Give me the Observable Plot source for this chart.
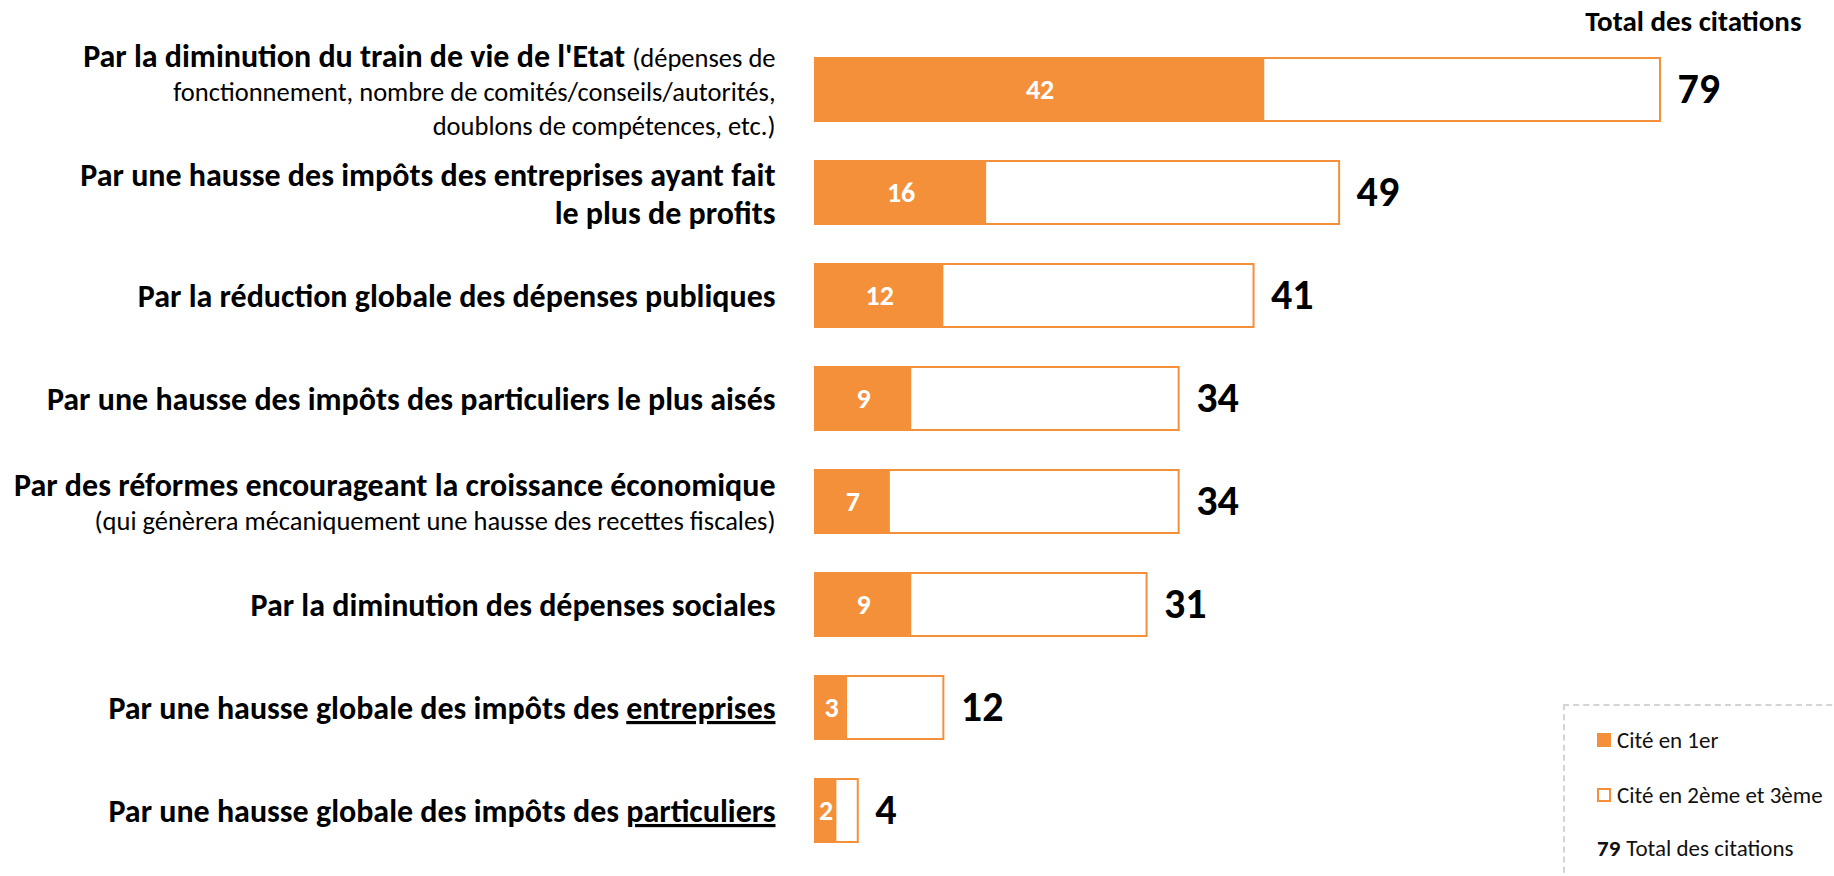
<!DOCTYPE html>
<html>
<head>
<meta charset="utf-8">
<script src="https://cdn.jsdelivr.net/npm/d3@7"></script>
<script src="https://cdn.jsdelivr.net/npm/@observablehq/plot@0.6"></script>
<style>
  html, body { margin: 0; padding: 0; background: #fff; overflow: hidden; }
  #wrap { position: relative; width: 1834px; height: 876px; overflow: hidden; font-family: Carlito, Calibri, Lato, sans-serif; }
  #legend { position: absolute; left: 1563px; top: 704px; width: 330px; height: 240px; border: 2px dashed #d4d4d4; box-sizing: border-box; }
  .li { position: absolute; left: 32px; height: 30px; font-size: 23px; color: #111; white-space: nowrap; display: flex; align-items: center; }
  .sw { width: 14px; height: 14px; box-sizing: border-box; margin-right: 6px; }
</style>
</head>
<body>
<div id="wrap"></div>
<script>
// ---- data ----
const categories = [
  "Par la diminution du train de vie de l'Etat {(dépenses de}\n{fonctionnement, nombre de comités/conseils/autorités,}\n{doublons de compétences, etc.)}",
  "Par une hausse des impôts des entreprises ayant fait\nle plus de profits",
  "Par la réduction globale des dépenses publiques",
  "Par une hausse des impôts des particuliers le plus aisés",
  "Par des réformes encourageant la croissance économique\n{(qui génèrera mécaniquement une hausse des recettes fiscales)}",
  "Par la diminution des dépenses sociales",
  "Par une hausse globale des impôts des _entreprises_",
  "Par une hausse globale des impôts des _particuliers_"
];
const citeEn1er = [42, 16, 12, 9, 7, 9, 3, 2];
const totalCitations = [79, 49, 41, 34, 34, 31, 12, 4];
const headerText = "Total des citations";
const legendLabels = ["Cité en 1er", "Cité en 2ème et 3ème", "Total des citations"];

const ORANGE = "#F5903A";
const FONT = "Carlito, Calibri, Lato, sans-serif";

const rows = categories.map((c, i) => ({cat: c, premier: citeEn1er[i], total: totalCitations[i]}));
// two bold lines need a little more leading than mixed bold/normal labels
const allBoldMultiline = d => d.cat.includes("\n") && !d.cat.includes("{");
const labelOpts = {y: "cat", frameAnchor: "left", text: "cat", textAnchor: "end", dx: -40, fontWeight: "bold", fontSize: 32, fill: "#000"};

const chart = Plot.plot({
  width: 1834,
  height: 876,
  marginLeft: 815,
  marginRight: 33,
  marginTop: 44,
  marginBottom: 20,
  style: {fontFamily: FONT, background: "white", color: "#111"},
  x: {domain: [0, 79], range: [815, 1660], axis: null},
  y: {domain: categories, axis: null, paddingInner: 0.39, paddingOuter: 0.104},
  marks: [
    Plot.barX(rows, {y: "cat", x1: 0, x2: "total", fill: "white", stroke: ORANGE, strokeWidth: 2, inset: 0}),
    Plot.barX(rows, {y: "cat", x1: 0, x2: "premier", fill: ORANGE, inset: 0}),
    Plot.text(rows, {y: "cat", x: d => d.premier / 2, text: d => String(d.premier), fill: "white", fontWeight: "bold", fontSize: 28}),
    Plot.text(rows, {y: "cat", x: "total", text: d => String(d.total), dx: 17, textAnchor: "start", fontWeight: "bold", fontSize: 42, fill: "#000"}),
    Plot.text(rows, {...labelOpts, filter: d => !allBoldMultiline(d), lineHeight: 1.07}),
    Plot.text(rows, {...labelOpts, filter: allBoldMultiline, lineHeight: 1.2}),
    Plot.text([headerText], {frameAnchor: "top-right", text: d => d, textAnchor: "end", lineAnchor: "middle", dy: -23, fontWeight: "bold", fontSize: 29, fill: "#000"})
  ]
});

// rich text post-processing for labels: {normal} and _underline_
function rich(el) {
  const s = el.textContent;
  if (!/[{_]/.test(s)) return;
  el.textContent = "";
  const re = /\{([^}]*)\}|_([^_]*)_|([^{_]+)/g;
  let m;
  while ((m = re.exec(s))) {
    const t = document.createElementNS("http://www.w3.org/2000/svg", "tspan");
    if (m[1] !== undefined) { t.textContent = m[1]; t.setAttribute("font-weight", "normal"); t.setAttribute("font-size", "26.5"); }
    else if (m[2] !== undefined) { t.textContent = m[2]; t.setAttribute("text-decoration", "underline"); }
    else t.textContent = m[3];
    el.appendChild(t);
  }
}
chart.querySelectorAll("text").forEach(txt => {
  if (!txt.textContent.startsWith("Par ")) return;
  const lines = Array.from(txt.children).filter(n => n.tagName.toLowerCase() === "tspan");
  if (lines.length) lines.forEach(rich); else rich(txt);
});

const wrap = document.getElementById("wrap");
wrap.appendChild(chart);

// legend
const lg = document.createElement("div");
lg.id = "legend";
lg.innerHTML = `
  <div class="li" style="top:19px"><span class="sw" style="background:${ORANGE}"></span>${legendLabels[0]}</div>
  <div class="li" style="top:74px"><span class="sw" style="border:2px solid ${ORANGE}"></span>${legendLabels[1]}</div>
  <div class="li" style="top:127px"><b style="margin-right:6px">${totalCitations[0]}</b>${legendLabels[2]}</div>`;
wrap.appendChild(lg);
</script>
</body>
</html>
